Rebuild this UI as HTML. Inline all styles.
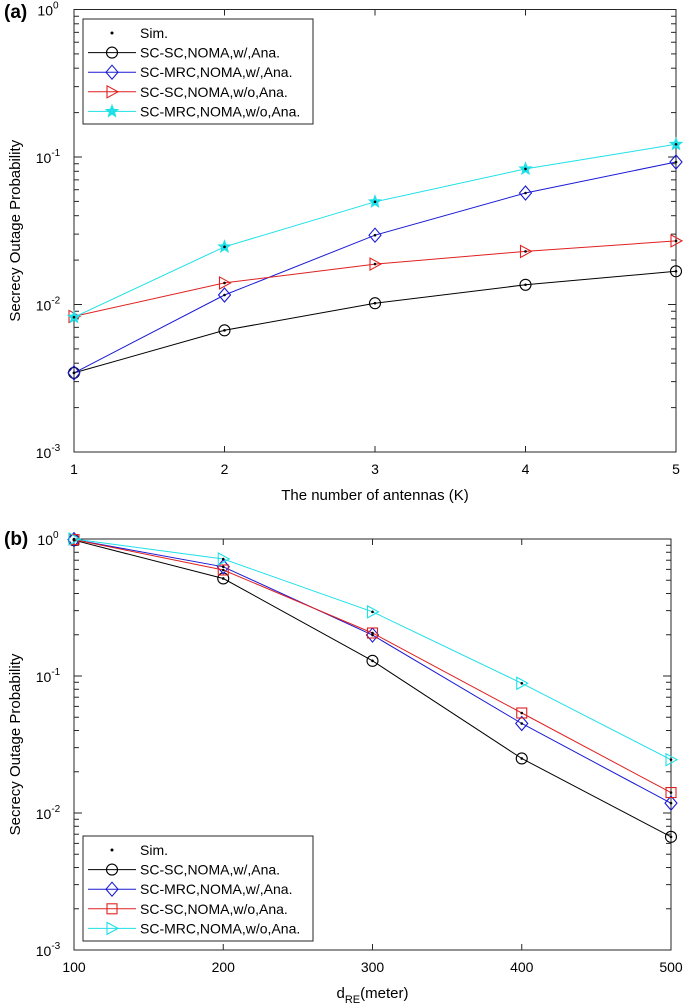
<!DOCTYPE html>
<html><head><meta charset="utf-8"><style>
html,body{margin:0;padding:0;background:#fff;}
svg{display:block;font-family:"Liberation Sans",Arial,sans-serif;}
</style></head><body>
<svg id="fig" width="685" height="1008" viewBox="0 0 685 1008"></svg>
<script>
// Panel (a) data
const aCats = [1,2,3,4,5];
const aSC_SC_w = [0.00344,0.00668,0.0102,0.0136,0.0168];
const aSC_MRC_w = [0.00344,0.0116,0.0295,0.057,0.0925];
const aSC_SC_wo = [0.0083,0.014,0.0188,0.0229,0.027];
const aSC_MRC_wo = [0.0082,0.0246,0.0497,0.083,0.122];
const aXTicks = ["1","2","3","4","5"];
// Panel (b) data
const bCats = [100,200,300,400,500];
const bSC_SC_w = [0.98,0.515,0.129,0.025,0.0067];
const bSC_MRC_w = [0.99,0.627,0.199,0.045,0.0118];
const bSC_SC_wo = [0.99,0.594,0.206,0.0537,0.0141];
const bSC_MRC_wo = [1.0,0.714,0.294,0.0885,0.0245];
const bXTicks = ["100","200","300","400","500"];
const yExps = [0,-1,-2,-3];
const legendLabels = ["Sim.","SC-SC,NOMA,w/,Ana.","SC-MRC,NOMA,w/,Ana.","SC-SC,NOMA,w/o,Ana.","SC-MRC,NOMA,w/o,Ana."];

const NS="http://www.w3.org/2000/svg";
const svg=document.getElementById('fig');
function mk(tag,attrs,parent){const e=document.createElementNS(NS,tag);for(const k in attrs)e.setAttribute(k,attrs[k]);(parent||svg).appendChild(e);return e;}

function marker(g,type,x,y,color){
  let e;
  if(type==='circle'){e=mk('circle',{cx:x,cy:y,r:5.5,fill:'none',stroke:color,'stroke-width':1.1},g);}
  else if(type==='diamond'){e=mk('polygon',{points:`${x},${y-7} ${x+6},${y} ${x},${y+7} ${x-6},${y}`,fill:'none',stroke:color,'stroke-width':1.1},g);}
  else if(type==='tri'){e=mk('polygon',{points:`${x-5},${y-6} ${x+6},${y} ${x-5},${y+6}`,fill:'none',stroke:color,'stroke-width':1.1},g);}
  else if(type==='square'){e=mk('rect',{x:x-5,y:y-5,width:10,height:10,fill:'none',stroke:color,'stroke-width':1.1},g);}
  else if(type==='star'){let p=[];for(let i=0;i<10;i++){const r=i%2?2.8:6.5;const a=-Math.PI/2+i*Math.PI/5;p.push((x+r*Math.cos(a)).toFixed(1)+','+(y+r*Math.sin(a)).toFixed(1));}
    e=mk('polygon',{points:p.join(' '),fill:color,stroke:color,'stroke-width':0.8},g);}
  
  
  return e;
}

function panel(cfg){
  const {L,R,T,B,cats,series,xt,label,labelY,xTitle,legY,name}=cfg;
  const g=mk('g',{});
  
  
  const xMin=cats[0],xMax=cats[cats.length-1];
  const X=v=>L+(v-xMin)/(xMax-xMin)*(R-L);
  const Y=v=>B-(Math.log10(v)+3)/3*(B-T);
  mk('rect',{x:L,y:T,width:R-L,height:B-T,fill:'#fff',stroke:'#262626','stroke-width':1},g);
  // ticks
  for(let d=-3;d<0;d++){for(let m=2;m<=9;m++){const y=Y(m*Math.pow(10,d));
    mk('line',{x1:L,x2:L+5,y1:y,y2:y,stroke:'#262626','stroke-width':1},g);
    mk('line',{x1:R,x2:R-5,y1:y,y2:y,stroke:'#262626','stroke-width':1},g);}}
  yExps.forEach(ex=>{const y=Y(Math.pow(10,ex));
    mk('line',{x1:L,x2:L+8,y1:y,y2:y,stroke:'#262626','stroke-width':1},g);
    mk('line',{x1:R,x2:R-8,y1:y,y2:y,stroke:'#262626','stroke-width':1},g);
    const t=mk('text',{x:L-26,y:y+6,'font-size':14,'text-anchor':'middle',fill:'#000'},g);
    
    
    t.innerHTML=`10<tspan dy="-7" font-size="10">${ex}</tspan>`;});
  cats.forEach((c,i)=>{const x=X(c);
    mk('line',{x1:x,x2:x,y1:B,y2:B-6,stroke:'#262626','stroke-width':1},g);
    mk('line',{x1:x,x2:x,y1:T,y2:T+6,stroke:'#262626','stroke-width':1},g);
    const t=mk('text',{x:x,y:B+22,'font-size':14,'text-anchor':'middle',fill:'#000'},g);
    
    
    t.textContent=xt[i];});
  // series
  series.forEach(s=>{
    const pts=s.vals.map((v,i)=>X(cats[i]).toFixed(1)+','+Y(v).toFixed(1)).join(' ');
    const pl=mk('polyline',{points:pts,fill:'none',stroke:s.color,'stroke-width':1},g);
    
    
    s.vals.forEach((v,i)=>{marker(g,s.m,X(cats[i]),Y(v),s.color);
      const d=mk('circle',{cx:X(cats[i]),cy:Y(v),r:1.3,fill:'#000'},g);
      
      });
  });
  // labels
  const pl=mk('text',{x:4,y:labelY,'font-size':19,'font-weight':'bold',fill:'#000'},g);
  
  
  pl.textContent=label;
  const yt=mk('text',{x:0,y:0,'font-size':15,'text-anchor':'middle',fill:'#000',transform:`translate(20,${(T+B)/2}) rotate(-90)`},g);
  
  
  yt.textContent='Secrecy Outage Probability';
  const xtl=mk('text',{x:(L+R)/2,y:B+48,'font-size':15,'text-anchor':'middle',fill:'#000'},g);
  
  
  xtl.innerHTML=xTitle;
  // legend
  const lg=mk('g',{},g);
  
  
  mk('rect',{x:83,y:legY,width:230,height:105,fill:'#fff',stroke:'#262626','stroke-width':1},lg);
  const rows=[null].concat(series);
  rows.forEach((s,i)=>{const y=legY+14+i*19.6;
    const e=mk('g',{},lg);
    
    
    if(s){mk('line',{x1:88,x2:136,y1:y,y2:y,stroke:s.color,'stroke-width':1},e);marker(e,s.m,112,y,s.color);}
    else mk('circle',{cx:112,cy:y,r:1.5,fill:'#000'},e);
    const t=mk('text',{x:140,y:y+5,'font-size':14,fill:'#000'},e);t.textContent=legendLabels[i];});
}

panel({name:'panel-a',L:74,R:676,T:9.5,B:452,cats:aCats,xt:aXTicks,label:'(a)',labelY:18,legY:19,
  xTitle:'The number of antennas (K)',
  series:[{name:'sc-sc-w',vals:aSC_SC_w,color:'#000',m:'circle'},
          {name:'sc-mrc-w',vals:aSC_MRC_w,color:'#1a1ad6',m:'diamond'},
          {name:'sc-sc-wo',vals:aSC_SC_wo,color:'#e02020',m:'tri'},
          {name:'sc-mrc-wo',vals:aSC_MRC_wo,color:'#1ee0e8',m:'star'}]});
panel({name:'panel-b',L:74,R:671,T:539,B:950,cats:bCats,xt:bXTicks,label:'(b)',labelY:545,legY:836,
  xTitle:'d<tspan dy="5" font-size="11">RE</tspan><tspan dy="-5">(meter)</tspan>',
  series:[{name:'sc-sc-w',vals:bSC_SC_w,color:'#000',m:'circle'},
          {name:'sc-mrc-w',vals:bSC_MRC_w,color:'#1a1ad6',m:'diamond'},
          {name:'sc-sc-wo',vals:bSC_SC_wo,color:'#e02020',m:'square'},
          {name:'sc-mrc-wo',vals:bSC_MRC_wo,color:'#1ee0e8',m:'tri'}]});
</script>
</body></html>
